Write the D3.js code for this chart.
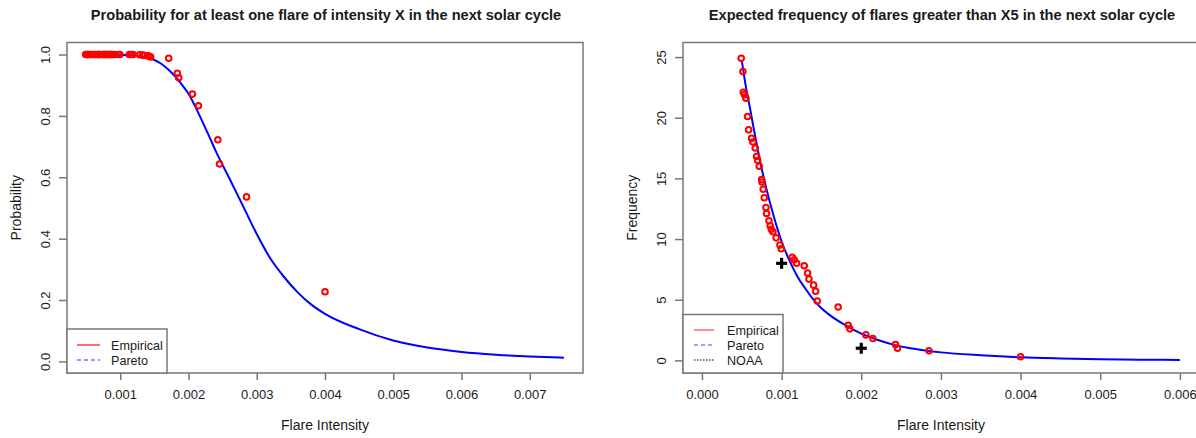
<!DOCTYPE html>
<html>
<head>
<meta charset="utf-8">
<script src="https://cdn.jsdelivr.net/npm/d3@7"></script>
<style>
  body { margin: 0; background: #fff; }
  svg { font-family: "Liberation Sans", Arial, sans-serif; }
</style>
</head>
<body>
<div id="chart"></div>
<script>
// flare intensities shared by both panels
const flareX = [0.000493, 0.000514, 0.000519, 0.000535, 0.000552, 0.000573, 0.000586, 0.000623, 0.00064, 0.000669,
    0.000686, 0.000699, 0.000719, 0.000749, 0.000753, 0.000769, 0.000782, 0.000803, 0.000811, 0.000841,
    0.000857, 0.00087, 0.000891, 0.000932, 0.000979, 0.000995, 0.001133, 0.001158, 0.001188, 0.001284,
    0.001326, 0.001343, 0.001402, 0.001427, 0.001447, 0.00171, 0.001836, 0.001857, 0.002058, 0.002146,
    0.00243, 0.002455, 0.00285, 0.0040];

const probY = [1, 1, 1, 1, 1, 1, 1, 1, 1, 1,
    1, 1, 1, 1, 1, 1, 1, 1, 1, 1,
    1, 1, 1, 1, 1, 1, 1, 1, 1, 0.999,
    0.998, 0.997, 0.996, 0.994, 0.992, 0.988, 0.939, 0.924, 0.871, 0.833,
    0.722, 0.643, 0.536, 0.227];

const freqY = [24.9, 23.8, 22.1, 21.9, 21.6, 20.1, 19.0, 18.3, 18.0, 17.5,
    16.8, 16.5, 16.0, 14.9, 14.7, 14.1, 13.4, 12.6, 12.1, 11.5,
    11.1, 10.8, 10.6, 10.1, 9.5, 9.2, 8.5, 8.3, 8.0, 7.8,
    7.2, 6.7, 6.2, 5.7, 4.9, 4.4, 2.9, 2.6, 2.1, 1.8,
    1.3, 1.0, 0.8, 0.3];

// pareto fit
const paretoProbX = [0.0005, 0.0008, 0.0010, 0.0012, 0.0013, 0.0014, 0.0015, 0.0016, 0.0017, 0.0018,
    0.0019, 0.0020, 0.0021, 0.0022, 0.0023, 0.0024, 0.0026, 0.0028, 0.0030, 0.0032, 0.0034,
    0.0036, 0.0038, 0.0040, 0.0045, 0.0050, 0.0055, 0.0060, 0.0065, 0.0070, 0.0075];
const paretoProbY = [1.0, 1.0, 0.999, 0.997, 0.994, 0.99, 0.982, 0.970, 0.952, 0.930,
    0.903, 0.872, 0.830, 0.783, 0.735, 0.685, 0.596, 0.506, 0.415, 0.335, 0.275,
    0.225, 0.185, 0.155, 0.105, 0.068, 0.045, 0.031, 0.022, 0.016, 0.012];

const paretoFreqX = [0.0005, 0.00055, 0.0006, 0.00065, 0.0007, 0.00075, 0.0008, 0.00085, 0.0009, 0.00095,
    0.0010, 0.0011, 0.0012, 0.0013, 0.0014, 0.0015, 0.0016, 0.0018, 0.0020, 0.0022,
    0.0024, 0.0026, 0.0028, 0.0030, 0.0035, 0.0040, 0.0045, 0.0050, 0.0055, 0.0060];
const paretoFreqY = [24.7, 22.6, 20.9, 19.1, 17.4, 15.8, 14.4, 13.1, 11.9, 10.8,
    9.8, 8.2, 6.9, 5.9, 5.0, 4.3, 3.75, 2.9, 2.2, 1.7,
    1.3, 1.02, 0.82, 0.66, 0.42, 0.25, 0.16, 0.10, 0.06, 0.04];

const noaaX = [0.001, 0.002];
const noaaY = [8, 1];

const probTicksX = [0.001, 0.002, 0.003, 0.004, 0.005, 0.006, 0.007];
const probTicksY = [0, 0.2, 0.4, 0.6, 0.8, 1.0];
const freqTicksX = [0, 0.001, 0.002, 0.003, 0.004, 0.005, 0.006];
const freqTicksY = [0, 5, 10, 15, 20, 25];

const W = 1196, H = 438;
const frame = '#777';
const ink = '#1a1a1a';

const svg = d3.select('#chart').append('svg')
    .attr('width', W)
    .attr('height', H);

function drawPanel(opt) {
    const x = d3.scaleLinear().domain(opt.xDomain).range([opt.left, opt.right]);
    const y = d3.scaleLinear().domain(opt.yDomain).range([opt.bottom, opt.top]);
    const g = svg.append('g');

    // title
    g.append('text')
        .attr('x', opt.titleX).attr('y', 20)
        .attr('text-anchor', 'middle')
        .attr('font-weight', 'bold')
        .attr('font-size', '14.6px')
        .attr('fill', ink)
        .text(opt.title);

    // axes
    const xAxis = g.append('g')
        .attr('transform', `translate(0,${opt.bottom})`)
        .call(d3.axisBottom(x).tickValues(opt.xTicks).tickFormat(d3.format(opt.xFmt)).tickSize(7).tickPadding(10));
    const yAxis = g.append('g')
        .attr('transform', `translate(${opt.left},0)`)
        .call(d3.axisLeft(y).tickValues(opt.yTicks).tickFormat(d3.format(opt.yFmt)).tickSize(8).tickPadding(4));
    [xAxis, yAxis].forEach(a => {
        a.select('.domain').remove();
        a.selectAll('line').attr('stroke', frame).attr('stroke-width', 1.5);
        a.selectAll('text').attr('font-size', '13px').attr('fill', ink)
            .attr('font-family', '"Liberation Sans", Arial, sans-serif');
    });
    // rotated tick labels, as R draws them
    yAxis.selectAll('.tick text')
        .attr('text-anchor', 'middle')
        .attr('transform', 'rotate(-90)')
        .attr('x', 0).attr('dy', 0)
        .attr('y', -17);

    // axis titles
    g.append('text')
        .attr('x', (opt.left + opt.right) / 2).attr('y', 430)
        .attr('text-anchor', 'middle').attr('font-size', '14px').attr('fill', ink)
        .text('Flare Intensity');
    g.append('text')
        .attr('transform', `translate(${opt.left - 46},${(opt.top + opt.bottom) / 2}) rotate(-90)`)
        .attr('text-anchor', 'middle').attr('font-size', '14px').attr('fill', ink)
        .text(opt.yLabel);

    // clip to the plot region
    const clipId = 'clip' + opt.id;
    svg.append('clipPath').attr('id', clipId)
        .append('rect')
        .attr('x', opt.left).attr('y', opt.top)
        .attr('width', opt.right - opt.left).attr('height', opt.bottom - opt.top);
    const plot = g.append('g').attr('clip-path', `url(#${clipId})`);

    // pareto curve
    const line = d3.line()
        .x(d => x(d[0]))
        .y(d => y(d[1]))
        .curve(d3.curveMonotoneX);
    plot.append('path')
        .datum(d3.zip(opt.curveX, opt.curveY))
        .attr('d', line)
        .attr('fill', 'none')
        .attr('stroke', '#0000ff')
        .attr('stroke-width', 2);

    // empirical points
    plot.selectAll('circle.pt')
        .data(d3.zip(opt.ptX, opt.ptY))
        .enter()
        .append('circle')
        .attr('class', 'pt')
        .attr('cx', d => x(d[0]))
        .attr('cy', d => y(d[1]))
        .attr('r', 2.8)
        .attr('fill', 'none')
        .attr('stroke', '#ff0000')
        .attr('stroke-width', 2);

    // noaa crosses
    if (opt.crossX) {
        const cross = plot.selectAll('g.cross')
            .data(d3.zip(opt.crossX, opt.crossY))
            .enter()
            .append('g')
            .attr('transform', d => `translate(${x(d[0])},${y(d[1])})`);
        cross.append('line').attr('x1', -5.5).attr('x2', 5.5)
            .attr('stroke', '#000').attr('stroke-width', 3.2);
        cross.append('line').attr('y1', -5.5).attr('y2', 5.5)
            .attr('stroke', '#000').attr('stroke-width', 3.2);
    }

    // frame
    g.append('rect')
        .attr('x', opt.left).attr('y', opt.top)
        .attr('width', opt.right - opt.left).attr('height', opt.bottom - opt.top)
        .attr('fill', 'none').attr('stroke', frame).attr('stroke-width', 1.5);

    // legend
    const lg = opt.legend;
    const leg = g.append('g');
    leg.append('rect')
        .attr('x', opt.left).attr('y', lg.top)
        .attr('width', lg.width).attr('height', opt.bottom - lg.top)
        .attr('fill', '#fff').attr('stroke', frame).attr('stroke-width', 1.5);
    lg.items.forEach((it, i) => {
        const yy = lg.firstY + i * 15;
        leg.append('line')
            .attr('x1', opt.left + lg.lineX0).attr('x2', opt.left + lg.lineX1)
            .attr('y1', yy).attr('y2', yy)
            .attr('stroke', it.color).attr('stroke-width', it.width)
            .attr('stroke-dasharray', it.dash || null);
        leg.append('text')
            .attr('x', opt.left + lg.textX).attr('y', yy + 4.5)
            .attr('font-size', '12.6px').attr('fill', ink)
            .text(it.label);
    });
}

drawPanel({
    id: 'L',
    title: 'Probability for at least one flare of intensity X in the next solar cycle',
    titleX: 326,
    left: 67, right: 583, top: 42.5, bottom: 373,
    xDomain: [0.00022, 0.00778],
    yDomain: [-0.0378, 1.0391],
    xTicks: probTicksX, yTicks: probTicksY,
    xFmt: '.3f', yFmt: '.1f',
    yLabel: 'Probability',
    curveX: paretoProbX, curveY: paretoProbY,
    ptX: flareX, ptY: probY,
    legend: {
        top: 329, width: 100, firstY: 345, lineX0: 10, lineX1: 33, textX: 44,
        items: [
            { label: 'Empirical', color: '#ff7070', width: 2 },
            { label: 'Pareto', color: '#2a2aff', width: 1.2, dash: '4,3' }
        ]
    }
});

drawPanel({
    id: 'R',
    title: 'Expected frequency of flares greater than X5 in the next solar cycle',
    titleX: 942,
    left: 683, right: 1199, top: 42.5, bottom: 373,
    xDomain: [-0.000238, 0.00624],
    yDomain: [-1.04, 26.2],
    xTicks: freqTicksX, yTicks: freqTicksY,
    xFmt: '.3f', yFmt: 'd',
    yLabel: 'Frequency',
    curveX: paretoFreqX, curveY: paretoFreqY,
    ptX: flareX, ptY: freqY,
    crossX: noaaX, crossY: noaaY,
    legend: {
        top: 314.5, width: 100, firstY: 330, lineX0: 11, lineX1: 31, textX: 44,
        items: [
            { label: 'Empirical', color: '#ff2020', width: 1 },
            { label: 'Pareto', color: '#8080ff', width: 1.5, dash: '4,3' },
            { label: 'NOAA', color: '#000', width: 1, dash: '1.5,1.5' }
        ]
    }
});
</script>
</body>
</html>
